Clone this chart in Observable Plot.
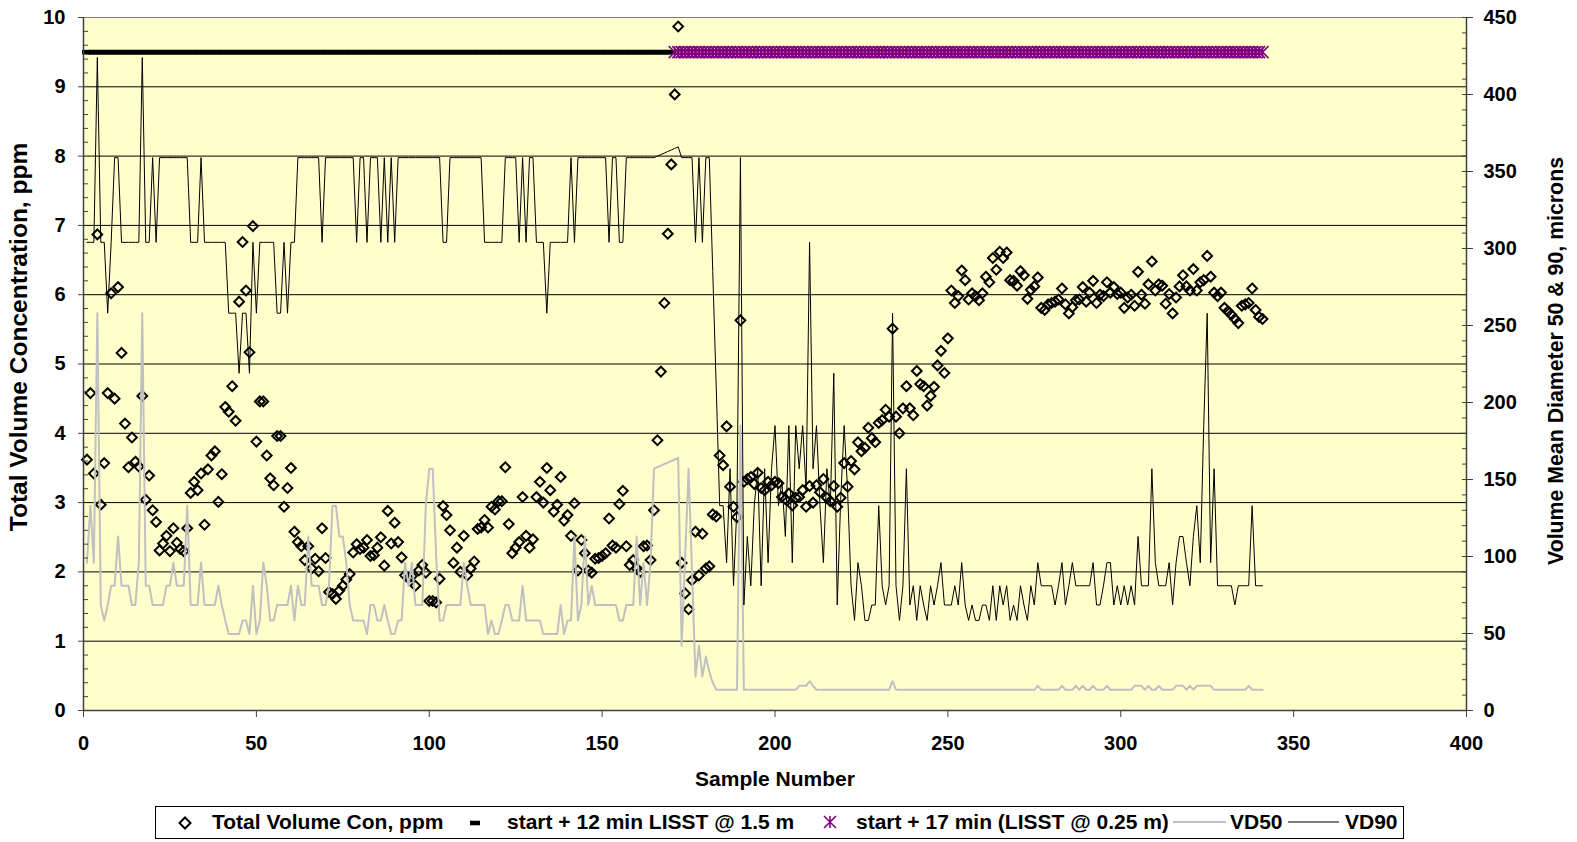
<!DOCTYPE html>
<html><head><meta charset="utf-8">
<script src="https://cdn.jsdelivr.net/npm/d3@7"></script>
<script src="https://cdn.jsdelivr.net/npm/@observablehq/plot@0.6"></script>
<style>
body{margin:0;background:#fff;font-family:"Liberation Sans",Arial,sans-serif;}
#wrap{position:relative;width:1577px;height:842px;}
#legend{position:absolute;left:155px;top:806px;width:1249px;height:33px;border:1px solid #000;box-sizing:border-box;font-weight:bold;font-size:21px;color:#000;}
#legend .t{position:absolute;top:-1px;line-height:31px;white-space:nowrap;}
#legend svg{position:absolute;top:0;overflow:visible;}
</style></head><body><div id="wrap"></div>
<script>
// ---- data ----
const samples = d3.range(1, 342);
const totalVolume = [
3.62,4.58,3.42,6.87,2.97,3.57,4.58,6.02,4.50,6.11,
5.16,4.14,3.51,3.94,3.59,3.52,4.54,3.04,3.39,2.89,
2.72,2.31,2.41,2.52,2.30,2.63,2.42,2.33,2.30,2.63,
3.14,3.30,3.18,3.42,2.68,3.48,3.68,3.74,3.01,3.41,
4.38,4.31,4.68,4.18,5.90,6.76,6.06,5.17,6.99,3.88,
4.46,4.46,3.68,3.35,3.25,3.96,3.96,2.94,3.21,3.50,
2.58,2.43,2.37,2.17,2.37,2.05,2.19,2.01,2.63,2.20,
1.71,1.68,1.61,1.73,1.80,1.89,1.97,2.28,2.40,2.33,
2.35,2.46,2.23,2.24,2.35,2.50,2.09,2.88,2.41,2.71,
2.43,2.21,1.95,1.91,1.94,1.80,2.02,2.10,1.99,1.58,
1.58,1.56,1.90,2.95,2.82,2.60,2.13,2.35,2.00,2.52,
1.95,2.05,2.15,2.62,2.64,2.75,2.64,2.94,2.90,3.02,
3.02,3.51,2.69,2.27,2.35,2.43,3.08,2.52,2.35,2.47,
3.08,3.30,3.00,3.50,3.18,2.87,2.97,3.37,2.74,2.82,
2.52,2.99,2.02,2.46,2.27,2.02,1.99,2.19,2.20,2.23,
2.27,2.77,2.38,2.35,2.98,3.17,2.37,2.10,2.17,2.05,
2.00,2.37,2.38,2.17,2.89,3.90,4.89,5.88,6.88,7.88,
8.89,9.87,2.13,1.69,1.46,1.88,2.58,1.95,2.55,2.05,
2.08,2.83,2.80,3.68,3.54,4.10,3.23,2.94,2.79,5.63,
3.30,3.34,3.37,3.27,3.43,3.21,3.18,3.30,3.25,3.30,
3.28,3.08,3.05,3.13,2.96,3.07,3.08,3.18,2.94,3.24,
3.00,3.25,3.15,3.34,3.07,3.02,3.24,2.94,3.07,3.57,
3.23,3.60,3.48,3.87,3.74,3.79,4.08,3.93,3.87,4.15,
4.19,4.34,4.24,5.51,4.24,4.00,4.36,4.68,4.36,4.26,
4.90,4.71,4.68,4.40,4.54,4.67,4.98,5.19,4.87,5.37,
6.06,5.88,5.98,6.35,6.21,5.93,6.02,5.98,5.92,6.02,
6.26,6.18,6.53,6.36,6.62,6.53,6.61,6.21,6.20,6.13,
6.34,6.28,5.94,6.07,6.12,6.25,5.81,5.78,5.86,5.88,
5.90,5.93,6.09,5.86,5.73,5.82,5.92,5.93,6.11,5.90,
6.03,6.20,5.88,6.00,5.98,6.18,6.03,6.11,6.01,6.03,
5.81,5.96,6.00,5.84,6.33,6.00,5.87,6.15,6.48,6.06,
6.15,6.13,5.87,6.01,5.73,5.96,6.12,6.28,6.12,6.06,
6.37,6.06,6.18,6.21,6.56,6.26,6.03,5.98,6.03,5.81,
5.76,5.71,5.65,5.59,5.84,5.86,5.88,6.09,5.78,5.68,
5.65];
const vd50 = [
96,133,96,258,68.5,58.5,68.5,81,81,113,
81,81,81,68.5,68.5,96,258,81,81,68.5,
68.5,68.5,68.5,81,81,96,81,81,81,133,
68.5,68.5,68.5,96,68.5,68.5,68.5,68.5,81,68.5,
58.5,49.6,49.6,49.6,49.6,58.5,58.5,49.6,81,49.6,
58.5,96,81,58.5,58.5,68.5,68.5,68.5,68.5,81,
58.5,81,68.5,68.5,113,81,81,81,68.5,68.5,
81,133,133,113,113,96,68.5,58.5,58.5,58.5,
58.5,49.6,68.5,68.5,58.5,58.5,68.5,58.5,49.6,49.6,
58.5,58.5,96,81,96,68.5,68.5,68.5,133,157,
157,100,58.5,58.5,68.5,68.5,68.5,68.5,68.5,96,
81,68.5,68.5,68.5,68.5,68.5,49.6,58.5,49.6,49.6,
58.5,68.5,68.5,58.5,58.5,58.5,81,58.5,58.5,58.5,
58.5,58.5,49.6,49.6,49.6,49.6,49.6,68.5,49.6,58.5,
58.5,113,58.5,68.5,113,68.5,81,68.5,68.5,68.5,
68.5,68.5,68.5,68.5,58.5,58.5,68.5,68.5,68.5,113,
68.5,96,68.5,96,157,158,159,160,161,162,
163,164,42,99,157,90,22,42,22,35,
25,18,13.5,13.5,13.5,13.5,13.5,13.5,13.5,185,
13.5,13.5,13.5,13.5,13.5,13.5,13.5,13.5,13.5,13.5,
13.5,13.5,13.5,13.5,13.5,13.5,16,16,16,19,
16,13.5,13.5,13.5,13.5,13.5,13.5,13.5,13.5,13.5,
13.5,13.5,13.5,13.5,13.5,13.5,13.5,13.5,13.5,13.5,
13.5,13.5,13.5,19,13.5,13.5,13.5,13.5,13.5,13.5,
13.5,13.5,13.5,13.5,13.5,13.5,13.5,13.5,13.5,13.5,
13.5,13.5,13.5,13.5,13.5,13.5,13.5,13.5,13.5,13.5,
13.5,13.5,13.5,13.5,13.5,13.5,13.5,13.5,13.5,13.5,
13.5,13.5,13.5,13.5,13.5,16,13.5,13.5,13.5,13.5,
13.5,13.5,16,13.5,13.5,13.5,16,13.5,16,13.5,
13.5,16,13.5,13.5,13.5,16,13.5,13.5,13.5,13.5,
13.5,13.5,13.5,16,16,16,13.5,16,13.5,13.5,
16,13.5,13.5,13.5,13.5,16,16,16,13.5,16,
13.5,16,16,16,16,16,13.5,13.5,13.5,13.5,
13.5,13.5,13.5,13.5,13.5,13.5,16,13.5,13.5,13.5,
13.5];
const vd90 = [
304,304,304,424,304,304,258,304,359,359,
304,304,304,304,304,304,424,304,304,359,
304,359,359,359,359,359,359,359,359,359,
304,304,304,359,304,304,304,304,304,304,
304,258,258,258,219,258,258,219,304,258,
304,304,304,304,304,258,258,304,258,304,
304,359,359,359,359,359,359,359,304,359,
359,359,359,359,359,359,359,359,304,359,
359,304,359,359,359,304,359,304,359,304,
359,359,359,359,359,359,359,359,359,359,
359,359,359,304,304,359,359,359,359,359,
359,359,359,359,359,304,304,304,304,304,
304,359,359,359,359,304,359,304,359,359,
304,304,304,258,304,304,304,304,304,304,
359,304,359,359,359,359,359,359,359,359,
359,304,359,359,304,304,359,359,359,359,
359,359,359,359,359,360,361,362,363,364,
365,366,359,359,359,359,304,359,304,359,
359,285,210,133,133,96,157,81,133,359,
68.5,113,81,133,157,81,157,96,157,185,
133,149,113,185,96,185,157,185,143,304,
157,185,133,96,157,133,219,68.5,137,185,
143,81,58.5,96,81,58.5,58.5,68.5,68.5,133,
81,68.5,81,258,81,58.5,81,157,68.5,81,
58.5,81,68.5,58.5,81,68.5,81,96,68.5,68.5,
68.5,81,68.5,96,68.5,58.5,68.5,58.5,58.5,68.5,
68.5,58.5,81,58.5,81,68.5,81,58.5,68.5,58.5,
81,68.5,58.5,81,68.5,96,81,81,81,81,
68.5,81,96,68.5,81,96,81,81,81,81,
81,96,68.5,68.5,81,96,96,68.5,81,68.5,
81,68.5,81,68.5,113,81,81,81,157,96,
81,81,81,96,68.5,96,113,113,96,81,
113,133,96,185,258,96,157,81,81,81,
81,81,68.5,81,81,81,81,133,81,81,
81];
const lisstLevel = 9.5;          // ppm position of the two LISST-position marker series
const shallowLast = 170;         // last sample of "start + 12 min LISST @ 1.5 m"
const xTicks = [0, 50, 100, 150, 200, 250, 300, 350, 400];
const leftTicks = [0, 1, 2, 3, 4, 5, 6, 7, 8, 9, 10];
const rightTicks = [0, 50, 100, 150, 200, 250, 300, 350, 400, 450];
const leftMax = 10, rightMax = 450;

// ---- build ----
const k = leftMax / rightMax;
const rows = samples.map((s, i) => ({s, tv: totalVolume[i], vd50: vd50[i], vd90: vd90[i]}));
const shallow = samples.filter(s => s <= shallowLast);
const deep = samples.filter(s => s > shallowLast);
const leftMinor = d3.range(0, 50).map(i => i * 0.2).filter(v => Math.abs(v - Math.round(v)) > 1e-6);
const rightMinor = d3.range(0, 451, 10).filter(v => v % 50 !== 0).map(v => v * k);
const rightMajor = rightTicks.map(v => v * k);

const dash = {draw(ctx, size) { const r = Math.sqrt(size / Math.PI); ctx.moveTo(-r, 0); ctx.lineTo(r, 0); }};
const star = {draw(ctx, size) { const r = Math.sqrt(size / Math.PI);
  ctx.moveTo(-r, -r); ctx.lineTo(r, r); ctx.moveTo(-r, r); ctx.lineTo(r, -r); ctx.moveTo(0, -r); ctx.lineTo(0, r); }};

const chart = Plot.plot({
  width: 1577, height: 800,
  marginLeft: 83, marginRight: 111, marginTop: 17, marginBottom: 90,
  x: {domain: [0, 400]},
  y: {domain: [0, leftMax]},
  style: {fontFamily: "'Liberation Sans', Arial, sans-serif", fontWeight: "bold", fontSize: "20px", background: "transparent", color: "#000", overflow: "visible"},
  marks: [
    Plot.frame({fill: "#FFFFCC", stroke: null}),
    Plot.gridY(leftTicks.slice(1, -1), {stroke: "#000", strokeOpacity: 1, strokeWidth: 1}),
    Plot.frame({stroke: "#808080", strokeWidth: 1}),
    Plot.dot(rows, {x: "s", y: "tv", symbol: "diamond2", r: 4.4, stroke: "#000", strokeWidth: 2, fill: "none"}),
    Plot.dot(shallow, {x: d => d, y: () => lisstLevel, symbol: dash, r: 5, stroke: "#000", strokeWidth: 4.5, fill: "none"}),
    Plot.dot(deep, {x: d => d, y: () => lisstLevel, symbol: star, r: 6, stroke: "#800080", strokeWidth: 1.5, fill: "none"}),
    Plot.line(rows, {x: "s", y: d => d.vd50 * k, stroke: "#C0C0C0", strokeWidth: 2}),
    Plot.line(rows, {x: "s", y: d => d.vd90 * k, stroke: "#000", strokeWidth: 1}),
    Plot.ruleY([0], {stroke: "#404040", strokeWidth: 1.5}),
    Plot.ruleX([0], {stroke: "#404040", strokeWidth: 1.5}),
    Plot.ruleX([400], {stroke: "#404040", strokeWidth: 1.5}),
    Plot.axisX(xTicks, {anchor: "bottom", tickSize: 7, tickPadding: 18, stroke: "#404040", tickFormat: d => String(d), label: null}),
    Plot.axisY(leftTicks, {anchor: "left", tickSize: 5, tickPadding: 13, stroke: "#404040", tickFormat: d => String(d), label: null}),
    Plot.axisY(leftMinor, {anchor: "left", tickSize: 5, dx: 5, stroke: "#404040", fill: "none", label: null}),
    Plot.axisY(rightMajor, {anchor: "right", tickSize: 11, dx: -5, stroke: "#404040", fill: "none", label: null}),
    Plot.axisY(rightMinor, {anchor: "right", tickSize: 5, dx: -5, stroke: "#404040", fill: "none", label: null}),
    Plot.axisY(rightMajor, {anchor: "right", tickSize: 0, tickPadding: 17, tickFormat: d => String(Math.round(d / k)), label: null}),
    Plot.text(["Sample Number"], {frameAnchor: "bottom", dy: 75, lineAnchor: "bottom", fontSize: 21}),
    Plot.text(["Total Volume Concentration, ppm"], {frameAnchor: "left", textAnchor: "middle", lineAnchor: "middle", dx: -64, dy: -27, rotate: -90, fontSize: 24.5}),
    Plot.text(["Volume Mean Diameter 50 & 90, microns"], {frameAnchor: "right", textAnchor: "middle", lineAnchor: "middle", dx: 90, dy: -3, rotate: -90, fontSize: 21.3})
  ]
});
const wrap = document.getElementById("wrap");
wrap.appendChild(chart);

// ---- legend ----
const legend = document.createElement("div");
legend.id = "legend";
legend.innerHTML = `
<svg style="left:22px;top:9px" width="14" height="14"><polygon points="7,1.5 12.5,7 7,12.5 1.5,7" fill="none" stroke="#000" stroke-width="2"/></svg>
<span class="t" style="left:56px">Total Volume Con, ppm</span>
<svg style="left:313px;top:9px" width="12" height="14"><line x1="1" y1="7" x2="11" y2="7" stroke="#000" stroke-width="4.5"/></svg>
<span class="t" style="left:351px">start + 12 min LISST @ 1.5 m</span>
<svg style="left:667px;top:8px" width="14" height="14"><path d="M1,1L13,13M1,13L13,1M7,1L7,13" stroke="#800080" stroke-width="1.6" fill="none"/></svg>
<span class="t" style="left:700px">start + 17 min (LISST @ 0.25 m)</span>
<svg style="left:1017px;top:8px" width="53" height="14"><line x1="0" y1="7" x2="53" y2="7" stroke="#C0C0C0" stroke-width="2"/></svg>
<span class="t" style="left:1074px">VD50</span>
<svg style="left:1132px;top:8px" width="51" height="14"><line x1="0" y1="7" x2="51" y2="7" stroke="#000" stroke-width="1"/></svg>
<span class="t" style="left:1189px">VD90</span>`;
wrap.appendChild(legend);
</script>
</body></html>
